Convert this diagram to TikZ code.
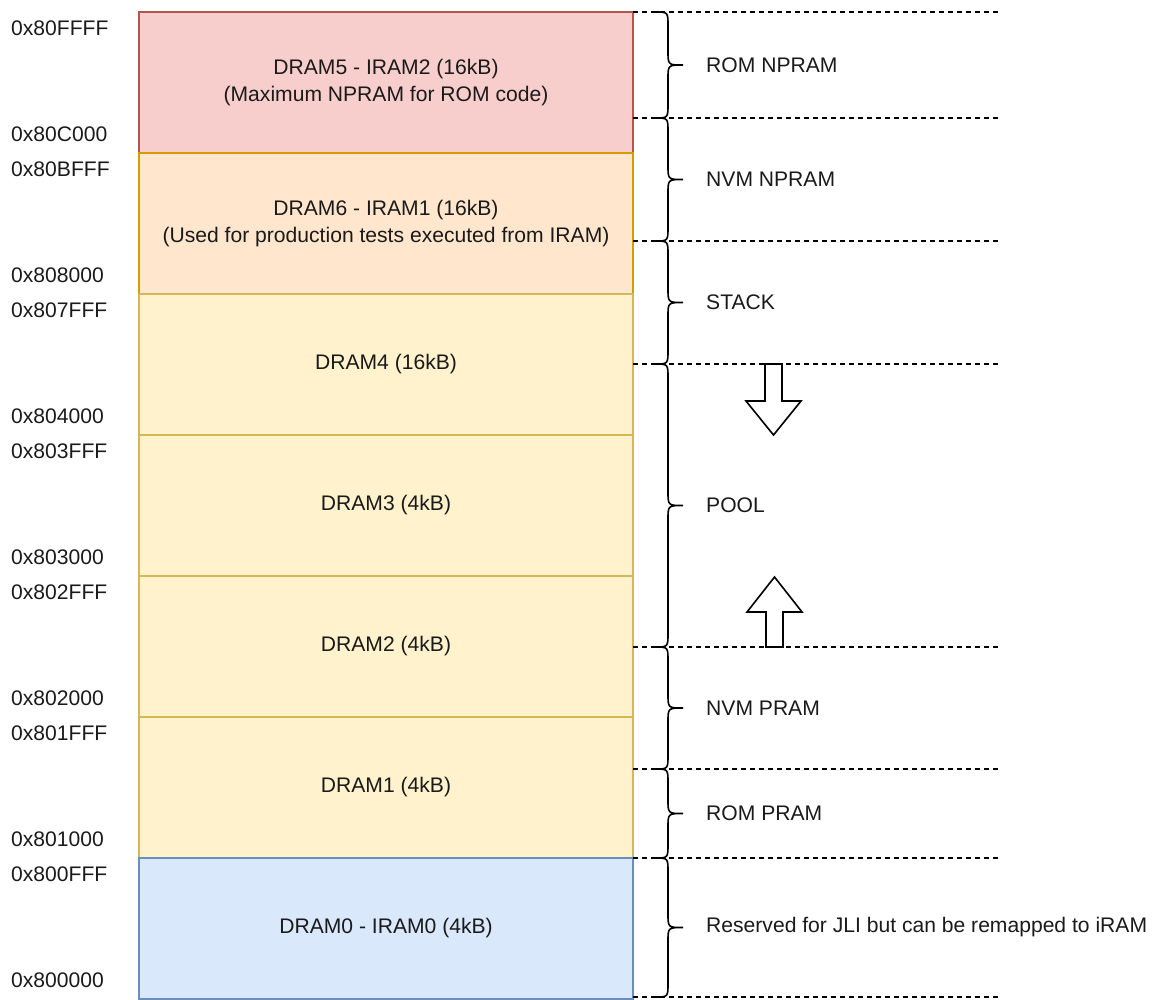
\documentclass[tikz,border=0pt]{standalone}
\usepackage{fontspec}
\setmainfont{Liberation Sans}
\definecolor{pinkF}{HTML}{F8CECC}\definecolor{pinkD}{HTML}{B85450}
\definecolor{peachF}{HTML}{FFE6CC}\definecolor{peachD}{HTML}{D79B00}
\definecolor{yelF}{HTML}{FFF2CC}\definecolor{yelD}{HTML}{D6B656}
\definecolor{bluF}{HTML}{DAE8FC}\definecolor{bluD}{HTML}{6C8EBF}
\definecolor{txt}{HTML}{1A1A1A}
\newcommand\fsz{\fontsize{21.1}{26.5}\selectfont}
\newcommand\mybrace[2]{%
  \draw[brc] (655,#1) .. controls (668,#1) .. (668,{#1+14})
    -- (668,{(#1+#2)/2-14}) .. controls (668,{(#1+#2)/2}) .. (683,{(#1+#2)/2})
    .. controls (668,{(#1+#2)/2}) .. (668,{(#1+#2)/2+14})
    -- (668,{#2-14}) .. controls (668,#2) .. (655,#2);}
\tikzset{
  mem/.style={draw, line width=1.6pt, minimum width=494pt, minimum height=141pt,
    inner sep=0pt, outer sep=0pt, anchor=north west, align=center, font=\fsz, text=txt},
  addr/.style={anchor=west, font=\fsz, inner sep=0pt, text=txt},
  lbl/.style={anchor=west, font=\fsz, inner sep=0pt, text=txt},
  sep/.style={dash pattern=on 5pt off 4pt, line width=1.5pt},
  brc/.style={line width=1.6pt},
  bigarrow/.style={draw, line width=1.6pt, fill=white, line join=miter}
}
\begin{document}
\begin{tikzpicture}[x=1pt,y=-1pt]
\useasboundingbox (0,0) rectangle (1155,999);
% memory blocks
\node[mem, fill=pinkF, draw=pinkD] (d5) at (139,12) {DRAM5 - IRAM2 (16kB)\\(Maximum NPRAM for ROM code)};
\node[mem, fill=peachF, draw=peachD] (d6) at (139,153) {DRAM6 - IRAM1 (16kB)\\(Used for production tests executed from IRAM)};
\node[mem, fill=yelF, draw=yelD] (d4) at (139,294) {DRAM4 (16kB)};
\node[mem, fill=yelF, draw=yelD] (d3) at (139,435) {DRAM3 (4kB)};
\node[mem, fill=yelF, draw=yelD] (d2) at (139,576) {DRAM2 (4kB)};
\node[mem, fill=yelF, draw=yelD] (d1) at (139,717) {DRAM1 (4kB)};
\node[mem, fill=bluF, draw=bluD] (d0) at (139,858) {DRAM0 - IRAM0 (4kB)};
% addresses
\node[addr] (a0) at (11,28) {0x80FFFF};
\node[addr] (a1) at (11,134) {0x80C000};
\node[addr] (a2) at (11,169) {0x80BFFF};
\node[addr] (a3) at (11,275) {0x808000};
\node[addr] (a4) at (11,310) {0x807FFF};
\node[addr] (a5) at (11,416) {0x804000};
\node[addr] (a6) at (11,451) {0x803FFF};
\node[addr] (a7) at (11,557) {0x803000};
\node[addr] (a8) at (11,592) {0x802FFF};
\node[addr] (a9) at (11,698) {0x802000};
\node[addr] (a10) at (11,733) {0x801FFF};
\node[addr] (a11) at (11,839) {0x801000};
\node[addr] (a12) at (11,874) {0x800FFF};
\node[addr] (a13) at (11,980) {0x800000};
% dashed separators
\foreach \yy in {12,118,241,364,647,769,858,997}{\draw[sep] (633,\yy) -- (1000,\yy);}
% braces
\mybrace{12}{118}
\mybrace{118}{241}
\mybrace{241}{364}
\mybrace{364}{647}
\mybrace{647}{769}
\mybrace{769}{858}
\mybrace{858}{997}
% region labels
\node[lbl] (l1) at (706,65) {ROM NPRAM};
\node[lbl] (l2) at (706,179.5) {NVM NPRAM};
\node[lbl] (l3) at (706,302.5) {STACK};
\node[lbl] (l4) at (706,505.5) {POOL};
\node[lbl] (l5) at (706,708) {NVM PRAM};
\node[lbl] (l6) at (706,813.5) {ROM PRAM};
\node[lbl] (l7) at (706,927.5) {Reserved for JLI but can be remapped to iRAM};
% growth arrows
\draw[bigarrow] (765,364) -- (782,364) -- (782,401) -- (801,401) -- (773.5,435) -- (746,401) -- (765,401) -- cycle;
\draw[bigarrow] (766,647) -- (783,647) -- (783,612) -- (802,612) -- (774.5,577) -- (747,612) -- (766,612) -- cycle;
\end{tikzpicture}
\end{document}
